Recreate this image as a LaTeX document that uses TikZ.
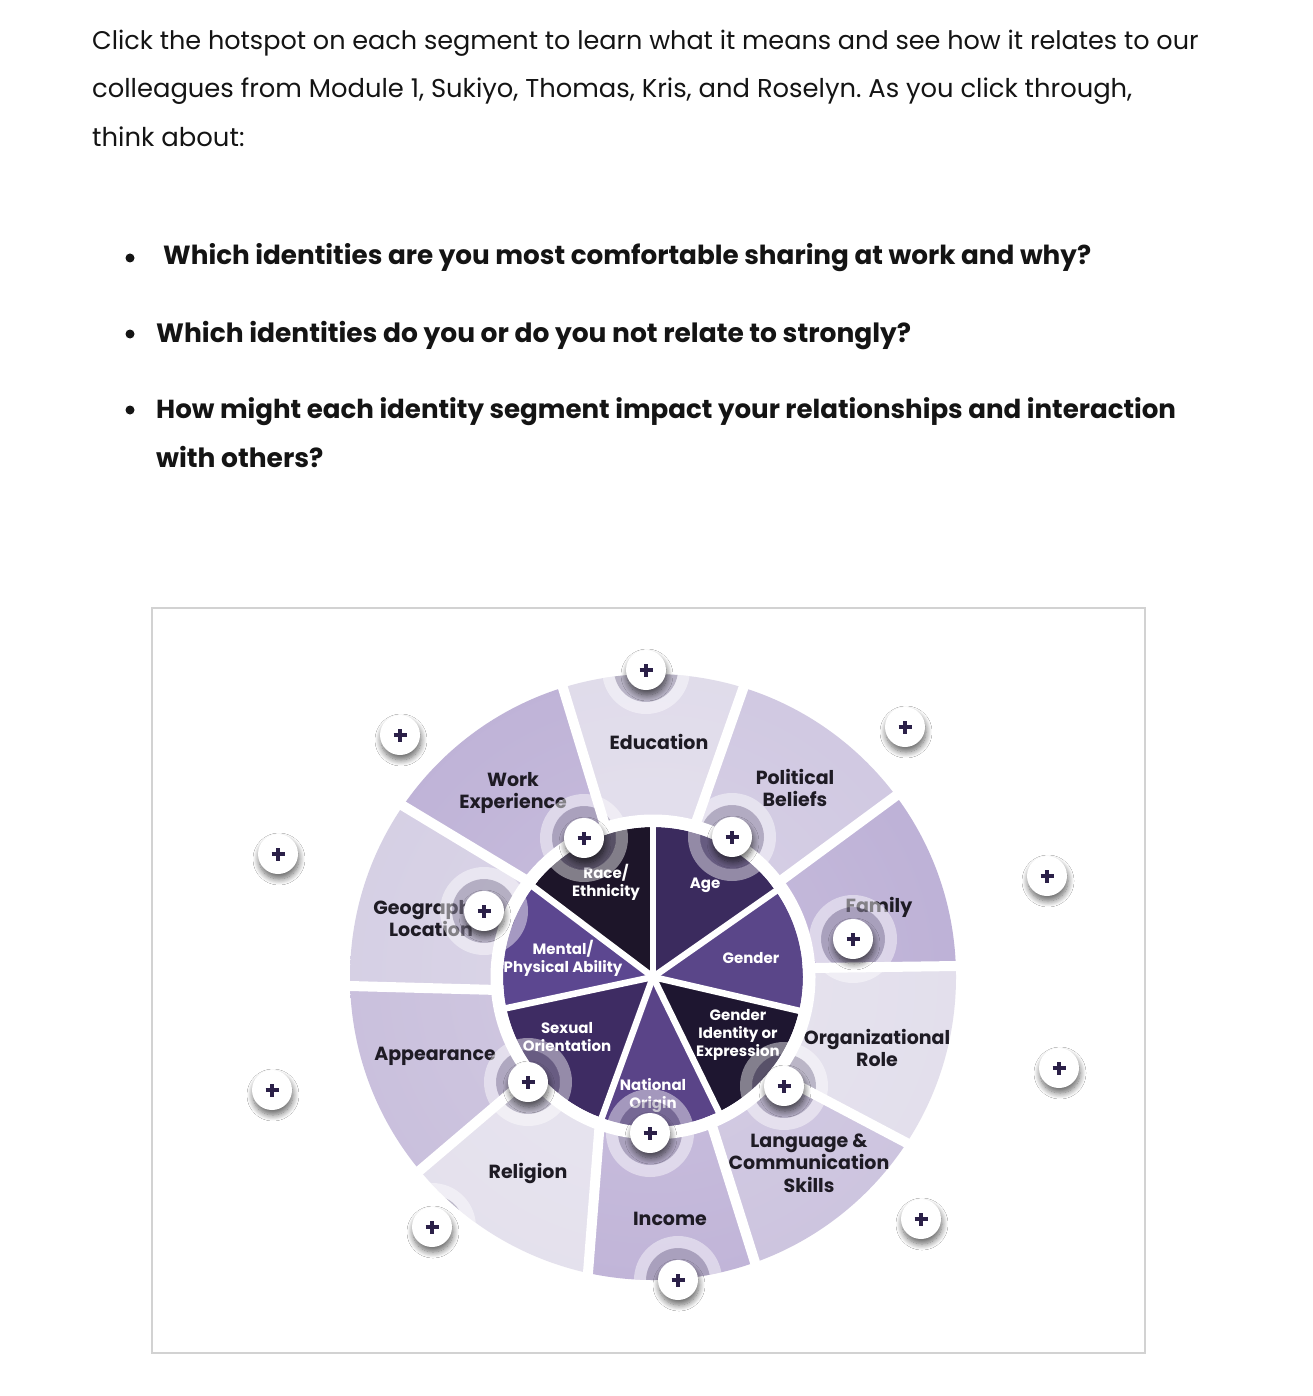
\documentclass[tikz,border=0pt]{standalone}
\usepackage{fontspec}
\setmainfont{Poppins}
\usetikzlibrary{shadows.blur,calc}
\definecolor{txtc}{HTML}{141414}
\definecolor{labc}{HTML}{1E1B24}
\definecolor{plusc}{HTML}{2B2048}
\definecolor{framec}{HTML}{D2D2D2}
\definecolor{cEdu}{HTML}{DBD6E7}
\definecolor{cPol}{HTML}{C9C0DD}
\definecolor{cFam}{HTML}{B3A5D0}
\definecolor{cOrg}{HTML}{DEDAE9}
\definecolor{cLan}{HTML}{C5BBDA}
\definecolor{cInc}{HTML}{B7A9D2}
\definecolor{cRel}{HTML}{E0DCEA}
\definecolor{cApp}{HTML}{C1B6D7}
\definecolor{cGeo}{HTML}{CFC8E0}
\definecolor{cWor}{HTML}{B5A7D1}
\definecolor{cRace}{HTML}{1D1529}
\definecolor{cAge}{HTML}{3B2B5E}
\definecolor{cGen}{HTML}{5A4689}
\definecolor{cGI}{HTML}{1E1630}
\definecolor{cNat}{HTML}{5A4488}
\definecolor{cSex}{HTML}{3E2C63}
\definecolor{cMen}{HTML}{5C4790}
\definecolor{haloc}{HTML}{928CA2}
\tikzset{
  para/.style={anchor=base west, inner sep=0pt, text=txtc, font=\fontsize{25.5}{30}\selectfont},
  bpara/.style={anchor=base west, inner sep=0pt, text=txtc},
  outlab/.style={align=center, inner sep=0pt, text=labc, font=\fontsize{19}{22.5}\selectfont\bfseries},
  inlab/.style={align=center, inner sep=0pt, text=white, font=\fontsize{15}{18}\selectfont\bfseries},
  hotbtn/.style={circle, fill=white, minimum size=40pt, inner sep=0pt,
     blur shadow={shadow xshift=1pt, shadow yshift=-5pt, shadow blur radius=6pt, shadow blur steps=10, shadow opacity=60}},
}
\newcommand{\oseg}[3]{\begin{scope}\clip (C) circle (303); \clip (a#2)--(b#2)--(b#3)--(a#3)--cycle; \shade[inner color=#1!72!white, outer color=#1] (C) circle (606); \end{scope}}
\newcommand{\piesec}[3]{\fill[#1] (0,0) -- (#2:150) arc[start angle=#2, end angle=#3, radius=150] -- cycle;}
\newcommand{\hotspot}[2]{\node[hotbtn] (#1) at (#2) {}; \draw[plusc, line width=3.6pt] ([xshift=-6.5pt]#1.center) -- ([xshift=6.5pt]#1.center) ([yshift=-6.5pt]#1.center) -- ([yshift=6.5pt]#1.center);}
\newcommand{\halo}[1]{\fill[haloc, opacity=0.5, even odd rule] (#1) circle (32) (#1) circle (20); \fill[white, opacity=0.45, even odd rule] (#1) circle (44) (#1) circle (32);}
\begin{document}
\frenchspacing
\begin{tikzpicture}[x=1pt,y=-1pt]
\useasboundingbox (0,0) rectangle (1312,1396);
\fill[white] (0,0) rectangle (1312,1396);
% intro text
\node[para] (l1) at (92,50) {Click the hotspot on each segment to learn what it means and see how it relates to our};
\node[para, font=\fontsize{25.8}{30}\selectfont] (l2) at (92,98) {colleagues from Module 1, Sukiyo, Thomas, Kris, and Roselyn. As you click through,};
\node[para, font=\fontsize{25.9}{30}\selectfont] (l3) at (92,147) {think about:};
\fill[txtc] (130,258) circle (4.5);
\fill[txtc] (130,334) circle (4.5);
\fill[txtc] (130,410) circle (4.5);
\node[bpara, font=\fontsize{26.25}{30}\selectfont\bfseries] (q1) at (163,265) {Which identities are you most comfortable sharing at work and why?};
\node[bpara, font=\fontsize{26.5}{30}\selectfont\bfseries] (q2) at (156,342) {Which identities do you or do you not relate to strongly?};
\node[bpara, font=\fontsize{26.1}{30}\selectfont\bfseries] (q3) at (156,418) {How might each identity segment impact your relationships and interaction};
\node[bpara, font=\fontsize{26.5}{30}\selectfont\bfseries] (q4) at (156,467) {with others?};
% frame
\draw[framec, line width=1.3pt] (152,608) rectangle (1145,1353);
% wheel geometry
\coordinate (C) at (653,977);
\coordinate (I1) at (603,819);  \coordinate (O1) at (563,688);
\coordinate (I2) at (698,817);  \coordinate (O2) at (743,689);
\coordinate (I3) at (779,882);  \coordinate (O3) at (893,798);
\coordinate (I4) at (810,968);  \coordinate (O4) at (957,966);
\coordinate (I5) at (795,1084); \coordinate (O5) at (903,1141);
\coordinate (I6) at (713,1129); \coordinate (O6) at (753,1256);
\coordinate (I7) at (599,1133); \coordinate (O7) at (589,1260);
\coordinate (I8) at (506,1097); \coordinate (O8) at (425,1166);
\coordinate (I9) at (498,990);  \coordinate (O9) at (350,986);
\coordinate (I10) at (526,880); \coordinate (O10) at (405,807);
\foreach \k in {1,...,10} {
  \coordinate (a\k) at ($(I\k)!-0.6!(O\k)$);
  \coordinate (b\k) at ($(O\k)!-0.35!(I\k)$);
}
% outer segments
\oseg{cEdu}{1}{2}
\oseg{cPol}{2}{3}
\oseg{cFam}{3}{4}
\oseg{cOrg}{4}{5}
\oseg{cLan}{5}{6}
\oseg{cInc}{6}{7}
\oseg{cRel}{7}{8}
\oseg{cApp}{8}{9}
\oseg{cGeo}{9}{10}
\oseg{cWor}{10}{1}
% inner pie
\begin{scope}[shift={(653,977)}, yscale=-1]
\piesec{cRace}{90}{143}
\piesec{cMen}{143}{192}
\piesec{cSex}{192}{250}
\piesec{cNat}{250}{296}
\piesec{cGI}{296}{347}
\piesec{cGen}{347}{395}
\piesec{cAge}{35}{90}
\end{scope}
% labels
\node[outlab] (tEdu) at (659,742) {Education};
\node[outlab] (tWor) at (513,793) {Work\\Experience};
\node[outlab] (tPol) at (795,788) {Political\\Beliefs};
\node[outlab] (tFam) at (879,907) {Family};
\node[outlab] (tOrg) at (877,1048) {Organizational\\Role};
\node[outlab] (tLan) at (809,1163) {Language \&\\Communication\\Skills};
\node[outlab] (tInc) at (670,1219) {Income};
\node[outlab] (tRel) at (528,1173) {Religion};
\node[outlab] (tApp) at (435,1056) {Appearance};
\node[outlab] (tGeo) at (431,918) {Geographic\\Location};
\node[inlab] (iRace) at (606,882) {Race/\\Ethnicity};
\node[inlab] (iAge) at (705,885) {Age};
\node[inlab] (iGen) at (751,958) {Gender};
\node[inlab] (iGI) at (738,1035) {Gender\\Identity or\\Expression};
\node[inlab] (iNat) at (653,1096) {National\\Origin};
\node[inlab] (iSex) at (567,1037) {Sexual\\Orientation};
\node[inlab] (iMen) at (563,958) {Mental/\\Physical Ability};
% halos clipped to wheel
\begin{scope}
\clip (C) circle (303);
\halo{646,670}
\halo{584,838}
\halo{732,837}
\halo{484,911}
\halo{853,939}
\halo{528,1082}
\halo{784,1086}
\halo{650,1133}
\halo{678,1280}
\halo{432,1227}
\end{scope}
% white gaps in outer ring
\begin{scope}[even odd rule]
\clip (C) circle (320) (C) circle (150);
\fill[white] (C) circle (162.5) (C) circle (150);
\foreach \k in {1,...,10} \draw[white, line width=10pt] (a\k) -- (b\k);
\end{scope}
% white gaps in inner pie
\begin{scope}[shift={(653,977)}, yscale=-1]
\foreach \a in {90,143,192,250,296,347,35} \draw[white, line width=6.5pt, line cap=round] (0,0) -- (\a:151);
\end{scope}
% hotspots
\hotspot{h1}{646,670}
\hotspot{h2}{584,838}
\hotspot{h3}{732,837}
\hotspot{h4}{484,911}
\hotspot{h5}{853,939}
\hotspot{h6}{528,1082}
\hotspot{h7}{784,1086}
\hotspot{h8}{650,1133}
\hotspot{h9}{678,1280}
\hotspot{h10}{432,1227}
\hotspot{h11}{400,735}
\hotspot{h12}{905,727}
\hotspot{h13}{278,854}
\hotspot{h14}{1047,876}
\hotspot{h15}{272,1090}
\hotspot{h16}{1059,1068}
\hotspot{h17}{921,1219}
\end{tikzpicture}
\end{document}
